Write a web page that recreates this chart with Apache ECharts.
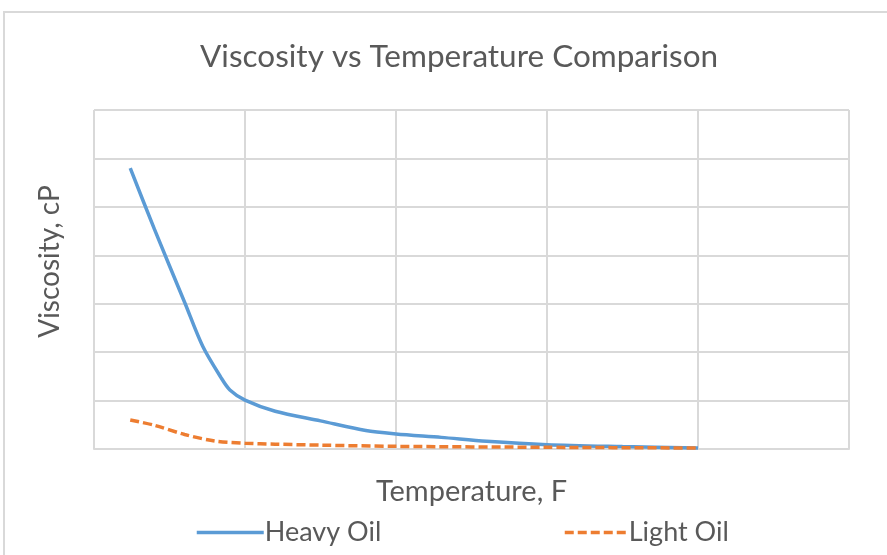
<!DOCTYPE html>
<html>
<head>
<meta charset="utf-8">
<script src="https://cdn.jsdelivr.net/npm/echarts@6/dist/echarts.min.js"></script>
<style>
  html, body { margin: 0; padding: 0; background: #ffffff; }
  #chart { width: 887px; height: 555px; }
</style>
</head>
<body>
<div id="chart"></div>
<script>
// Temperature (F) sample points for each oil
const heavyTemps = [12, 20, 30, 36, 42, 45, 50, 60, 75, 90, 100, 115, 130, 150, 175, 200];
const heavyVisc  = [5800, 4540, 3030, 2120, 1480, 1220, 1010, 780, 580, 380, 310, 240, 160, 90, 50, 20];

const lightTemps = [12, 20, 30, 40, 50, 60, 75, 100, 150, 200];
const lightVisc  = [600, 490, 300, 165, 120, 100, 80, 55, 35, 20];

const seriesNames = ['Heavy Oil', 'Light Oil'];

const fontFamily = 'Lato, "Open Sans", sans-serif';
const gridColor = '#d9d9d9';
const textColor = '#595959';

const pairs = (xs, ys) => xs.map((x, i) => [x, ys[i]]);

const chart = echarts.init(document.getElementById('chart'), null, { renderer: 'canvas' });

const legendCommon = {
  top: 514,
  itemHeight: 14,
  itemGap: 5,
  itemStyle: { opacity: 0 },
  lineStyle: { width: 3.5 },
  textStyle: { fontFamily, fontSize: 27, color: textColor, padding: [0, 0, 0, -4] }
};

chart.setOption({
  backgroundColor: '#ffffff',
  animation: false,
  graphic: [{
    type: 'rect',
    shape: { x: 4, y: 12, width: 1000, height: 1000 },
    style: { fill: 'none', stroke: gridColor, lineWidth: 2 },
    silent: true
  }],
  title: {
    text: 'Viscosity vs Temperature Comparison',
    left: 195,
    top: 36,
    textStyle: { fontFamily, fontSize: 31.5, fontWeight: 'normal', color: textColor }
  },
  grid: { left: 94, top: 110, right: 38, bottom: 106, containLabel: false },
  xAxis: {
    type: 'value',
    min: 0, max: 250, interval: 50,
    name: 'Temperature, F',
    nameLocation: 'middle',
    nameGap: 28,
    nameTextStyle: { fontFamily, fontSize: 29, color: textColor, verticalAlign: 'top' },
    axisLine: { show: true, lineStyle: { color: gridColor, width: 2 } },
    axisTick: { show: false },
    axisLabel: { show: false },
    splitLine: { show: true, lineStyle: { color: gridColor, width: 2 } }
  },
  yAxis: {
    type: 'value',
    min: 0, max: 7000, interval: 1000,
    name: 'Viscosity, cP',
    nameLocation: 'middle',
    nameGap: 30,
    nameTextStyle: { fontFamily, fontSize: 28, color: textColor, padding: [0, 0, 0, 36] },
    axisLine: { show: false },
    axisTick: { show: false },
    axisLabel: { show: false },
    splitLine: { show: true, lineStyle: { color: gridColor, width: 2 } }
  },
  legend: [
    Object.assign({ data: [seriesNames[0]], left: 190, itemWidth: 67 }, legendCommon),
    Object.assign({ data: [seriesNames[1]], left: 558, itemWidth: 63 }, legendCommon)
  ],
  series: [{
    name: seriesNames[0],
    type: 'line',
    data: pairs(heavyTemps, heavyVisc),
    smooth: 0.3,
    symbol: 'none',
    lineStyle: { color: '#5b9bd5', width: 3.5 },
    itemStyle: { color: '#5b9bd5' },
    z: 3
  }, {
    name: seriesNames[1],
    type: 'line',
    data: pairs(lightTemps, lightVisc),
    smooth: 0.3,
    symbol: 'none',
    lineStyle: { color: '#ed7d31', width: 3.5, type: [9, 4] },
    itemStyle: { color: '#ed7d31' },
    z: 4
  }]
});
</script>
</body>
</html>
